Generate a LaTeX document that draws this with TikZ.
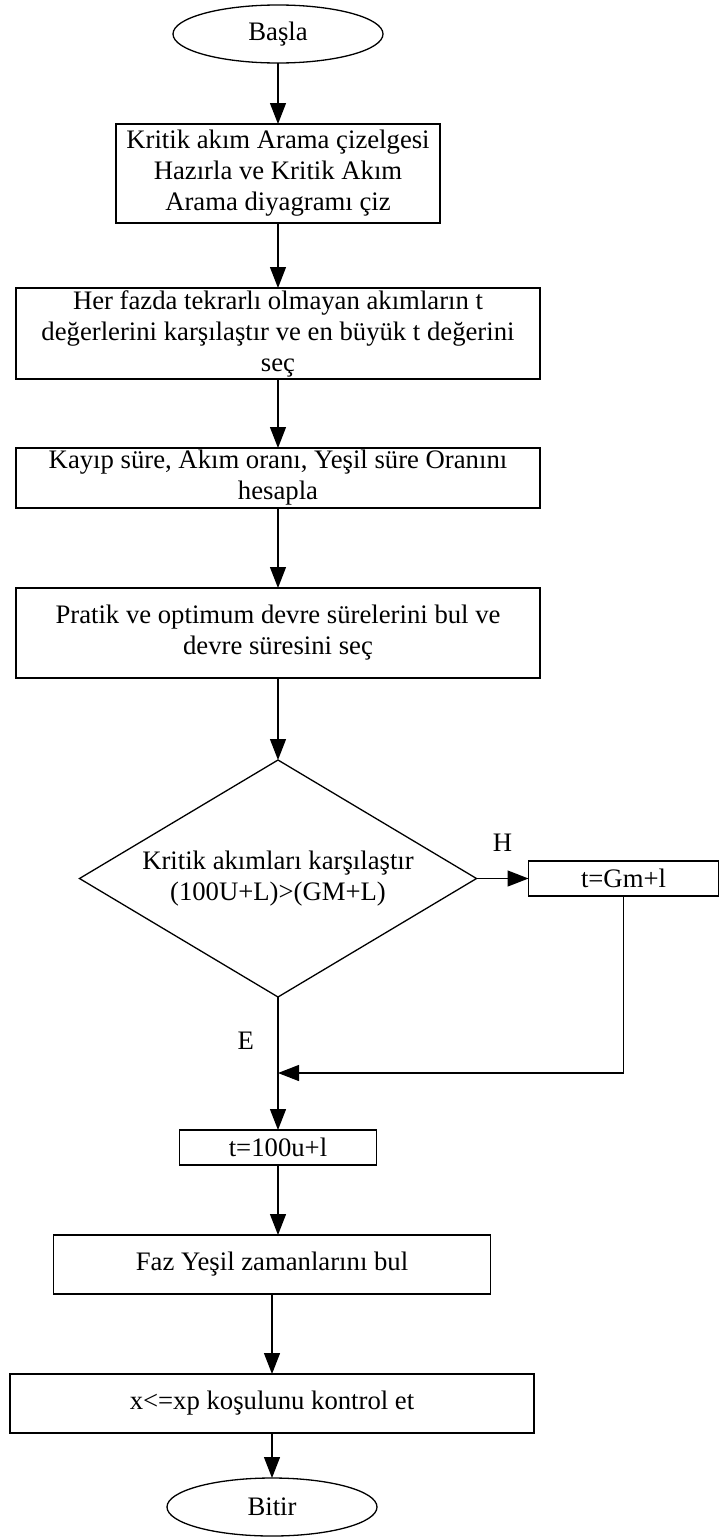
\documentclass[tikz,border=0pt]{standalone}
\usepackage{fontspec}
\setmainfont{Liberation Serif}
\usetikzlibrary{shapes.geometric,arrows.meta,positioning}

\begin{document}
\begin{tikzpicture}[->, >={Triangle[length=21pt,width=16pt]}, line width=1.3pt, inner sep=0pt, outer sep=0pt,
  font=\fontsize{26.7}{31}\selectfont,
  term/.style={ellipse, draw, minimum width=210pt, minimum height=58pt},
  proc/.style={rectangle, draw, align=center},
  cond/.style={diamond, draw, align=center, aspect=1.675, minimum width=397pt, minimum height=237pt}]
\useasboundingbox (0,0) rectangle (720pt,-1537pt);
\node[term] (start) at (278pt,-34pt) {Başla};
\node[proc, minimum width=324pt, minimum height=99pt] (crit) [below=61pt of start] {Kritik akım Arama çizelgesi\\Hazırla ve Kritik Akım\\Arama diyagramı çiz};
\node[proc, minimum width=524pt, minimum height=91pt] (comp) [below=65pt of crit] {Her fazda tekrarlı olmayan akımların t\\değerlerini karşılaştır ve en büyük t değerini\\seç};
\node[proc, minimum width=524pt, minimum height=60pt] (ratio) [below=69pt of comp] {Kayıp süre, Akım oranı, Yeşil süre Oranını\\hesapla};
\node[proc, minimum width=524pt, minimum height=90pt] (cycle) [below=80pt of ratio] {Pratik ve optimum devre sürelerini bul ve\\devre süresini seç};
\node[cond] (check) [below=82pt of cycle] {Kritik akımları karşılaştır\\(100U+L)>(GM+L)};
\node[proc, minimum width=190pt, minimum height=35pt] (tgm) [right=52pt of check] {t=Gm+l};
\node[proc, minimum width=197pt, minimum height=35pt] (tu) [below=133pt of check] {t=100u+l};
\node[proc, minimum width=437pt, minimum height=59pt] (green) [below=70pt of tu, xshift=-6pt] {Faz Yeşil zamanlarını bul};
\node[proc, minimum width=524pt, minimum height=59pt] (xp) [below=80pt of green] {x<=xp koşulunu kontrol et};
\node[term] (stop) [below=45pt of xp] {Bitir};
\coordinate[below=76pt of check.south] (merge);
\path
(start) edge (crit)
(crit) edge (comp)
(comp) edge (ratio)
(ratio) edge (cycle)
(cycle) edge (check)
(check) edge node[above=27pt] {H} (tgm)
(check) edge node[pos=0.33, left=24pt] {E} (tu)
(tu) edge (tu |- green.north)
(green) edge (xp)
(xp) edge (stop);
\draw (tgm) |- (merge);
\end{tikzpicture}
\end{document}
